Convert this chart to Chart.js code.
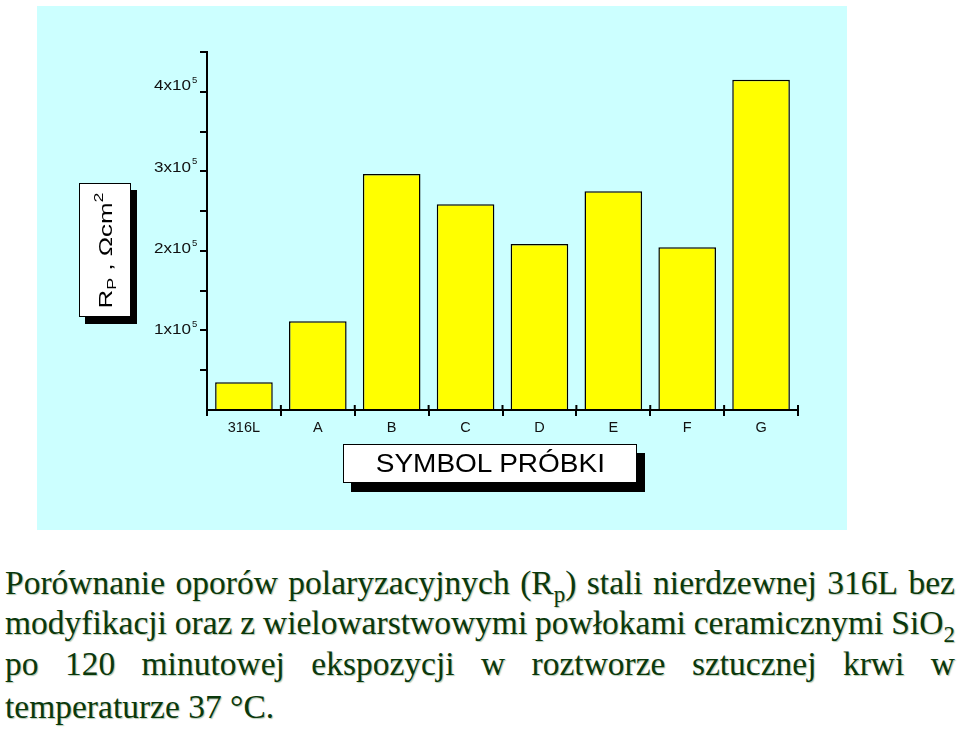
<!DOCTYPE html>
<html>
<head>
<meta charset="utf-8">
<script src="https://cdn.jsdelivr.net/npm/chart.js@4.4.0/dist/chart.umd.min.js"></script>
<style>
    body { margin: 0; width: 960px; height: 730px; background: #fff; position: relative; overflow: hidden;
           font-family: "Liberation Sans", Arial, sans-serif; }
    #panel { position: absolute; left: 37px; top: 6px; width: 810px; height: 524px; background: #ccffff; }
    #barChart { position: absolute; left: 0; top: 0; }
    .box { position: absolute; box-sizing: border-box; background: #fff; border: 1px solid #000;
           display: flex; align-items: center; justify-content: center; }
    #yTitle { left: 42px; top: 177px; width: 52px; height: 134px; box-shadow: 6px 7px 0 #000; }
    #yTitle span { display: inline-block; white-space: nowrap; font-size: 17.5px; color: #000;
                   transform: rotate(-90deg) scaleX(1.48); }
    #yTitle sub { font-size: 12px; vertical-align: -4px; }
    #yTitle sup { font-size: 12px; vertical-align: 9px; }
    #xTitle { left: 306px; top: 438px; width: 294px; height: 39px; box-shadow: 8px 9px 0 #000; }
    #xTitle span { display: inline-block; white-space: nowrap; font-size: 25px; color: #000;
                   transform: scaleX(1.12); }
    .cap { position: absolute; left: 5px; width: 950px; font-family: "Liberation Serif", "Times New Roman", serif;
           font-size: 33.5px; line-height: 32px; color: #0b380b; white-space: nowrap;
           text-shadow: 1px 1px 1px rgba(0, 70, 0, 0.3); }
    .just { display: flex; justify-content: space-between; }
    .cap sub { font-size: 23px; vertical-align: -8px; line-height: 0; }
</style>
</head>
<body>
<div id="panel">
    <canvas id="barChart" width="810" height="524"></canvas>
    <div class="box" id="yTitle"><span>R<sub>P</sub> , Ωcm<sup>2</sup></span></div>
    <div class="box" id="xTitle"><span>SYMBOL PRÓBKI</span></div>
</div>
<div class="cap just" style="top:567px"><span>Porównanie</span><span>oporów</span><span>polaryzacyjnych</span><span>(R<sub>p</sub>)</span><span>stali</span><span>nierdzewnej</span><span>316L</span><span>bez</span></div>
<div class="cap just" style="top:607px"><span>modyfikacji</span><span>oraz</span><span>z</span><span>wielowarstwowymi</span><span>powłokami</span><span>ceramicznymi</span><span>SiO<sub>2</sub></span></div>
<div class="cap just" style="top:648px"><span>po</span><span>120</span><span>minutowej</span><span>ekspozycji</span><span>w</span><span>roztworze</span><span>sztucznej</span><span>krwi</span><span>w</span></div>
<div class="cap" style="top:691px">temperaturze 37 °C.</div>

<script>
// data
const categories = ["316L", "A", "B", "C", "D", "E", "F", "G"];
const rpValues = [34000, 109000, 290000, 253000, 204000, 269000, 200000, 406000];
const yTickValues = [100000, 200000, 300000, 400000];
const yTickLabels = ["1x10", "2x10", "3x10", "4x10"];
const yTickExponent = "5";

// y tick labels with a raised exponent
const yLabelsPlugin = {
    id: "yLabels",
    afterDraw(chart) {
        const ctx = chart.ctx;
        const y = chart.scales.y;
        ctx.save();
        ctx.fillStyle = "#111";
        yTickValues.forEach((v, i) => {
            const py = y.getPixelForValue(v);
            ctx.save();
            ctx.font = '14px "Liberation Sans", Arial, sans-serif';
            ctx.textAlign = "right";
            ctx.textBaseline = "middle";
            ctx.translate(154, py + 2);
            ctx.scale(1.22, 1);
            ctx.fillText(yTickLabels[i], 0, 0);
            ctx.restore();
            ctx.font = '9.5px "Liberation Sans", Arial, sans-serif';
            ctx.textAlign = "left";
            ctx.textBaseline = "alphabetic";
            ctx.fillText(yTickExponent, 155, py - 1.5);
        });
        ctx.restore();
    },
};

// small tick stubs above the x axis, so the ticks look like crosses
const xCrossPlugin = {
    id: "xCross",
    afterDraw(chart) {
        const ctx = chart.ctx;
        const x = chart.scales.x;
        const base = chart.chartArea.bottom;
        const half = (x.getPixelForValue(1) - x.getPixelForValue(0)) / 2;
        ctx.save();
        ctx.strokeStyle = "#000";
        ctx.lineWidth = 2;
        for (let i = 0; i <= categories.length; i++) {
            const px = x.getPixelForValue(0) - half + i * 2 * half;
            ctx.beginPath();
            ctx.moveTo(px, base - 5);
            ctx.lineTo(px, base);
            ctx.stroke();
        }
        ctx.restore();
    },
};

const barChart = document.getElementById("barChart");
const barConfig = {
    type: "bar",
    data: {
        labels: categories,
        datasets: [
            {
                data: rpValues,
                backgroundColor: "#ffff00",
                borderColor: "#000",
                borderWidth: 1.5,
                categoryPercentage: 0.78,
                barPercentage: 1,
            },
        ],
    },
    options: {
        responsive: false,
        animation: false,
        layout: { padding: { left: 0, top: 46, right: 49, bottom: 0 } },
        plugins: {
            legend: { display: false },
            tooltip: { enabled: false },
        },
        scales: {
            x: {
                offset: true,
                grid: { offset: true, drawOnChartArea: false, color: "#000", lineWidth: 2, tickLength: 6 },
                border: { color: "#000", width: 2 },
                ticks: { color: "#111", font: { family: '"Liberation Sans", Arial, sans-serif', size: 14.5 }, padding: 3, maxRotation: 0 },
                afterFit(scale) {
                    scale.height = 120;
                },
            },
            y: {
                min: 0,
                max: 440000,
                grid: {
                    drawOnChartArea: false,
                    tickLength: 7,
                    lineWidth: 2,
                    color: (c) => (c.tick && c.tick.value === 0 ? "rgba(0,0,0,0)" : "#000"),
                },
                border: { color: "#000", width: 2 },
                ticks: { stepSize: 50000, includeBounds: false, callback: () => "" },
                afterFit(scale) {
                    scale.width = 170;
                },
            },
        },
    },
    plugins: [yLabelsPlugin, xCrossPlugin],
};

const rpBarChart = new Chart(barChart, barConfig);
</script>
</body>
</html>
